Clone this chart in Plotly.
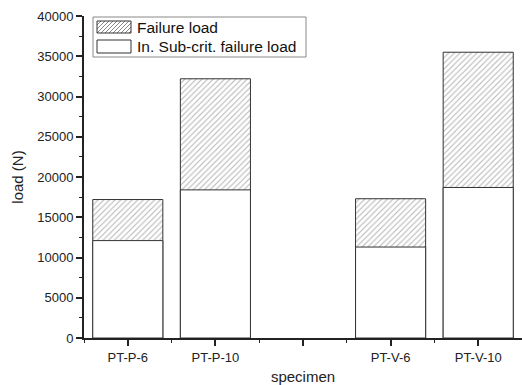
import plotly.graph_objects as go

specimens = ["PT-P-6", "PT-P-10", "", "PT-V-6", "PT-V-10"]
failure_load = [17200, 32200, None, 17300, 35500]
subcrit_load = [12100, 18400, None, 11300, 18700]
series_names = ["Failure load", "In. Sub-crit. failure load"]

x_pos = list(range(len(specimens)))
font_family = "Liberation Sans, Arial, sans-serif"
edge = "#333333"
hatch_col = "#6a6a6a"

fig = go.Figure()
fig.add_trace(go.Bar(
    x=x_pos, y=failure_load, name=series_names[0], width=0.8, showlegend=False,
    marker=dict(color="white", line=dict(color=edge, width=1),
                pattern=dict(shape="/", fgcolor=hatch_col, bgcolor="white",
                             size=4, solidity=0.25)),
))
fig.add_trace(go.Bar(
    x=x_pos, y=subcrit_load, name=series_names[1], width=0.8, showlegend=False,
    marker=dict(color="white", line=dict(color=edge, width=1)),
))

# ---- custom legend (pixel offsets from the top-left corner of the plot area)
shapes = []
def pshape(**kw):
    base = dict(xref="paper", yref="paper", xsizemode="pixel", ysizemode="pixel",
                xanchor=0, yanchor=1, layer="above")
    base.update(kw)
    shapes.append(base)

pshape(type="rect", x0=9, x1=222, y0=-1, y1=-41,
       line=dict(color="#888888", width=1), fillcolor="white")
# hatched swatch
sx0, sx1, sy0, sy1 = 13, 47, -17, -5
h = sy1 - sy0
segs = []
a = sx0 - h
while a < sx1:
    xs, ys = a, sy0
    xe, ye = a + h, sy1
    if xs < sx0:
        ys = sy0 + (sx0 - a); xs = sx0
    if xe > sx1:
        ye = sy0 + (sx1 - a); xe = sx1
    segs.append(f"M{xs},{ys}L{xe},{ye}")
    a += 4
pshape(type="path", path="".join(segs), line=dict(color=hatch_col, width=0.8))
pshape(type="rect", x0=sx0, x1=sx1, y0=sy0, y1=sy1,
       line=dict(color=edge, width=1), fillcolor="rgba(0,0,0,0)")
pshape(type="rect", x0=13, x1=47, y0=-37, y1=-24,
       line=dict(color=edge, width=1), fillcolor="white")

annotations = [
    dict(text=series_names[0], xref="paper", yref="paper", x=0, y=1,
         xanchor="left", yanchor="middle", xshift=51, yshift=-11,
         showarrow=False, font=dict(size=15.5, color="#111111")),
    dict(text=series_names[1], xref="paper", yref="paper", x=0, y=1,
         xanchor="left", yanchor="middle", xshift=51, yshift=-30,
         showarrow=False, font=dict(size=15.5, color="#111111")),
]

fig.update_layout(
    width=522, height=385,
    margin=dict(l=84, r=0, t=16, b=47),
    barmode="overlay",
    plot_bgcolor="white", paper_bgcolor="white",
    font=dict(family=font_family, size=13, color="#222222"),
    showlegend=False,
    shapes=shapes, annotations=annotations,
    xaxis=dict(
        range=[-0.5, 4.5], tickmode="array", tickvals=x_pos, ticktext=specimens,
        ticks="outside", ticklen=6, tickcolor="#222222", tickwidth=1.5,
        showline=True, linecolor="#222222", linewidth=1.8,
        showgrid=False, zeroline=False,
        minor=dict(tickmode="array", tickvals=[-0.5, 0.5, 1.5, 2.5, 3.5, 4.5],
                   ticks="outside", ticklen=3, tickcolor="#222222", tickwidth=1.2),
        title=dict(text="specimen", font=dict(size=15), standoff=11),
    ),
    yaxis=dict(
        range=[0, 40000], dtick=5000, tickformat="d",
        ticks="outside", ticklen=6, tickcolor="#222222", tickwidth=1.5,
        showline=True, linecolor="#222222", linewidth=1.8,
        showgrid=False, zeroline=False,
        minor=dict(dtick=2500, ticks="outside", ticklen=3, tickcolor="#222222", tickwidth=1.2),
        title=dict(text="load (N)", font=dict(size=15), standoff=10),
    ),
)

fig.write_html("out.html")
